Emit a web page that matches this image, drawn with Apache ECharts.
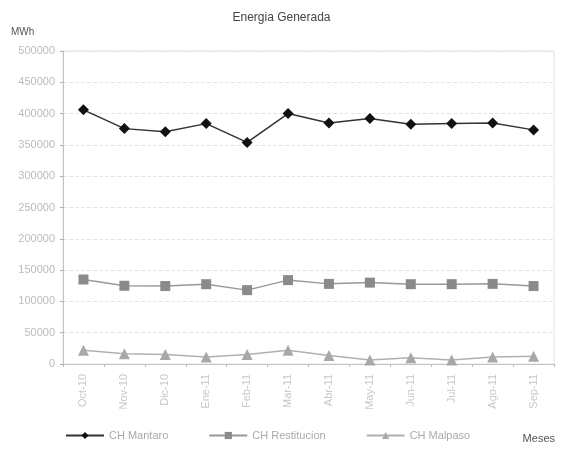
<!DOCTYPE html>
<html>
<head>
<meta charset="utf-8">
<script src="https://cdn.jsdelivr.net/npm/echarts@6/dist/echarts.min.js"></script>
<style>html,body{margin:0;padding:0;background:#fff;}#c{width:563px;height:449px;}</style>
</head>
<body>
<div id="c"></div>
<script>
var months = ['Oct-10','Nov-10','Dic-10','Ene-11','Feb-11','Mar-11','Abr-11','May-11','Jun-11','Jul-11','Ago-11','Sep-11'];
var mantaro = [406000, 376000, 371000, 384000, 354000, 400000, 385000, 392000, 383000, 384000, 385000, 374000];
var restitucion = [135000, 125000, 124500, 127500, 118000, 134000, 128000, 130000, 127500, 127500, 128000, 124500];
var malpaso = [22000, 16500, 15000, 11000, 15000, 22000, 13500, 6500, 10000, 6500, 11000, 12500];
var yMin = 0, yMax = 500000, yStep = 50000;

var chart = echarts.init(document.getElementById('c'), null, {renderer: 'canvas'});
chart.setOption({
  backgroundColor: '#fff',
  animation: false,
  title: {
    text: 'Energia Generada', left: 'center', top: 7,
    textStyle: {fontFamily: 'Liberation Sans', fontSize: 12, fontWeight: 'normal', color: '#444'}
  },
  legend: {
    bottom: 3, left: 60, itemGap: 40, itemWidth: 38, itemHeight: 9,
    textStyle: {fontFamily: 'Liberation Sans', fontSize: 11, color: '#aaa'},
    data: ['CH Mantaro', 'CH Restitucion', 'CH Malpaso']
  },
  graphic: [
    {type: 'text', left: 11, top: 27, style: {text: 'MWh', font: '10px Liberation Sans', fill: '#555'}},
    {type: 'text', right: 8, bottom: 5, style: {text: 'Meses', font: '11px Liberation Sans', fill: '#555'}}
  ],
  grid: {left: 63, right: 9, top: 51, bottom: 85, show: true, borderColor: '#e2e2e2', borderWidth: 1},
  xAxis: {
    type: 'category', data: months, boundaryGap: true,
    axisLine: {lineStyle: {color: '#bbb', type: 'dotted'}},
    axisTick: {show: true, length: 3, lineStyle: {color: '#bbb'}},
    axisLabel: {rotate: 90, color: '#c8c8c8', fontFamily: 'Liberation Sans', fontSize: 11, margin: 10},
    splitLine: {show: false}
  },
  yAxis: {
    type: 'value', min: yMin, max: yMax, interval: yStep,
    axisLine: {show: true, lineStyle: {color: '#bbb', type: 'dotted'}},
    axisTick: {show: true, length: 3, lineStyle: {color: '#aaa'}},
    axisLabel: {color: '#bbb', fontFamily: 'Liberation Sans', fontSize: 11, margin: 8,
      formatter: function (v) { return String(v); }},
    splitLine: {show: true, lineStyle: {color: '#e6e6e6', type: 'dashed'}}
  },
  series: [
    {name: 'CH Mantaro', type: 'line', data: mantaro, symbol: 'diamond', symbolSize: 11,
     itemStyle: {color: '#111'}, lineStyle: {color: '#333', width: 1.5}},
    {name: 'CH Restitucion', type: 'line', data: restitucion, symbol: 'rect', symbolSize: 10,
     itemStyle: {color: '#8a8a8a'}, lineStyle: {color: '#999', width: 1.5}},
    {name: 'CH Malpaso', type: 'line', data: malpaso, symbol: 'triangle', symbolSize: 11,
     itemStyle: {color: '#a8a8a8'}, lineStyle: {color: '#b0b0b0', width: 1.5}}
  ]
});
</script>
</body>
</html>
